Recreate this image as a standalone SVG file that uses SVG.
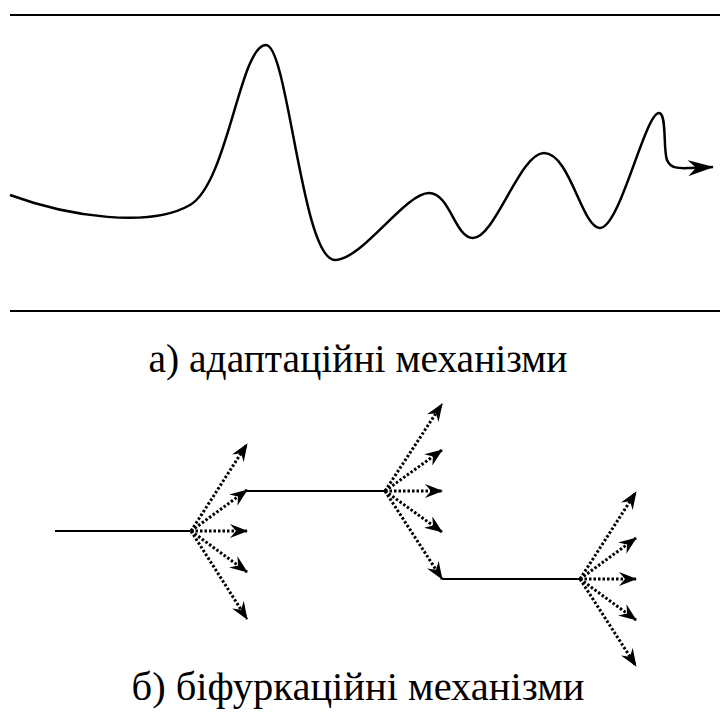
<svg xmlns="http://www.w3.org/2000/svg" width="720" height="715" viewBox="0 0 720 715">
<style>
.rule{stroke:#000;stroke-width:2;fill:none}
.curve{stroke:#000;stroke-width:2.5;fill:none}
.solid{stroke:#000;stroke-width:2;fill:none}
.dot{stroke:#000;stroke-width:3;fill:none;stroke-dasharray:2.5 2}
</style>
<defs>
<marker id="ah" viewBox="0 0 18 14" refX="17" refY="7" markerWidth="18" markerHeight="14" markerUnits="userSpaceOnUse" orient="auto">
<path d="M0,0 L18,7 L0,14 L6,7 Z" fill="#000"/>
</marker>
<marker id="ah2" viewBox="0 0 26 16" refX="25" refY="8" markerWidth="26" markerHeight="16" markerUnits="userSpaceOnUse" orient="auto">
<path d="M0,0 L26,8 L0,16 L8,8 Z" fill="#000"/>
</marker>
</defs>
<g id="frame">
<line class="rule" x1="10" y1="15" x2="720" y2="15"/>
<line class="rule" x1="10" y1="311" x2="720" y2="311"/>
</g>
<g id="adaptive-curve">
<path class="curve" marker-end="url(#ah2)" d="M10,195 C70,217 150,228 190,205 C228,183 240,45 266,45 C288,45 302,260 335,260 C362,260 405,193 429,193 C450,193 455,238 473,238 C495,238 520,153 544,153 C570,153 582,228 600,228 C620,228 645,113 659,113 C667,113 663,150 667,160 C671,170 682,168 692,168 L713,167"/>
</g>
<text id="label-a" x="358" y="372" font-family="Liberation Serif, Times New Roman, serif" font-size="39.5" text-anchor="middle" fill="#000">а) адаптаційні механізми</text>
<g id="connectors">
<line class="solid" x1="55" y1="531" x2="190" y2="531"/>
<line class="solid" x1="246" y1="491" x2="385" y2="491"/>
<line class="solid" x1="442" y1="579" x2="580" y2="579"/>
</g>
<g id="fan1">
<line class="dot" marker-end="url(#ah)" x1="191" y1="531" x2="247" y2="444"/>
<line class="dot" marker-end="url(#ah)" x1="191" y1="531" x2="247" y2="490"/>
<line class="dot" marker-end="url(#ah)" x1="191" y1="531" x2="247" y2="531"/>
<line class="dot" marker-end="url(#ah)" x1="191" y1="531" x2="247" y2="572"/>
<line class="dot" marker-end="url(#ah)" x1="191" y1="531" x2="247" y2="619"/>
</g>
<g id="fan2">
<line class="dot" marker-end="url(#ah)" x1="385" y1="491" x2="442" y2="404"/>
<line class="dot" marker-end="url(#ah)" x1="385" y1="491" x2="442" y2="450"/>
<line class="dot" marker-end="url(#ah)" x1="385" y1="491" x2="442" y2="491"/>
<line class="dot" marker-end="url(#ah)" x1="385" y1="491" x2="442" y2="532"/>
<line class="dot" marker-end="url(#ah)" x1="385" y1="491" x2="442" y2="579"/>
</g>
<g id="fan3">
<line class="dot" marker-end="url(#ah)" x1="580" y1="579" x2="636" y2="492"/>
<line class="dot" marker-end="url(#ah)" x1="580" y1="579" x2="636" y2="538"/>
<line class="dot" marker-end="url(#ah)" x1="580" y1="579" x2="636" y2="579"/>
<line class="dot" marker-end="url(#ah)" x1="580" y1="579" x2="636" y2="620"/>
<line class="dot" marker-end="url(#ah)" x1="580" y1="579" x2="636" y2="666"/>
</g>
<text id="label-b" x="358" y="700" font-family="Liberation Serif, Times New Roman, serif" font-size="40.5" text-anchor="middle" fill="#000">б) біфуркаційні механізми</text>
</svg>
